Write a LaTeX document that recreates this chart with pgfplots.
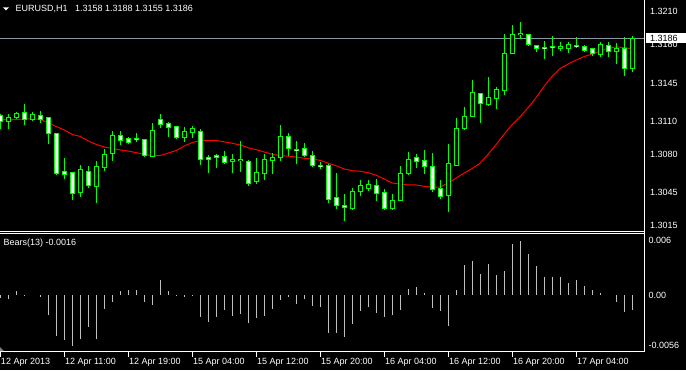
\documentclass[border=0pt]{standalone}
\usepackage{pgfplots}
\pgfplotsset{compat=1.18}
\usepackage{pgfplotstable}
\usepackage{fontspec}
\setmainfont{Liberation Sans}
\definecolor{cgreen}{RGB}{0,255,0}
\definecolor{cred}{RGB}{255,0,0}
\definecolor{bidgray}{RGB}{140,150,160}
\definecolor{silv}{RGB}{192,192,192}
\newcommand\lab{\fontsize{9bp}{10.8bp}\selectfont}

\pgfplotstableread{
k O H L C
0 1.3115 1.3117 1.3103 1.3110
1 1.3110 1.3117 1.3103 1.3113
2 1.3113 1.3118 1.3112 1.3117
3 1.3118 1.3126 1.3107 1.3112
4 1.3112 1.3118 1.3110 1.3116
5 1.3115 1.3119 1.3108 1.3112
6 1.3113 1.3114 1.3089 1.3099
7 1.3099 1.3099 1.3061 1.3062
8 1.3064 1.3076 1.3057 1.3061
9 1.3063 1.3063 1.3038 1.3044
10 1.3045 1.3070 1.3041 1.3066
11 1.3064 1.3069 1.3049 1.3051
12 1.3050 1.3074 1.3035 1.3069
13 1.3068 1.3085 1.3065 1.3080
14 1.3081 1.3101 1.3074 1.3097
15 1.3097 1.3101 1.3088 1.3092
16 1.3094 1.3096 1.3089 1.3091
17 1.3094 1.3099 1.3091 1.3093
18 1.3093 1.3093 1.3077 1.3079
19 1.3078 1.3108 1.3077 1.3102
20 1.3112 1.3117 1.3104 1.3107
21 1.3108 1.3109 1.3096 1.3104
22 1.3105 1.3106 1.3094 1.3095
23 1.3095 1.3105 1.3091 1.3101
24 1.3100 1.3106 1.3095 1.3103
25 1.3101 1.3103 1.3070 1.3075
26 1.3077 1.3079 1.3063 1.3075
27 1.3079 1.3080 1.3067 1.3077
28 1.3078 1.3083 1.3071 1.3072
29 1.3073 1.3080 1.3063 1.3075
30 1.3074 1.3092 1.3064 1.3075
31 1.3073 1.3075 1.3051 1.3053
32 1.3055 1.3076 1.3053 1.3063
33 1.3062 1.3080 1.3056 1.3075
34 1.3074 1.3081 1.3062 1.3077
35 1.3077 1.3107 1.3074 1.3096
36 1.3096 1.3099 1.3078 1.3085
37 1.3084 1.3092 1.3071 1.3083
38 1.3085 1.3090 1.3077 1.3079
39 1.3079 1.3083 1.3068 1.3070
40 1.3070 1.3073 1.3066 1.3069
41 1.3070 1.3071 1.3035 1.3039
42 1.3040 1.3063 1.3030 1.3033
43 1.3033 1.3044 1.3019 1.3031
44 1.3030 1.3049 1.3029 1.3046
45 1.3046 1.3056 1.3042 1.3051
46 1.3049 1.3056 1.3046 1.3052
47 1.3051 1.3057 1.3037 1.3044
48 1.3045 1.3048 1.3029 1.3030
49 1.3030 1.3044 1.3029 1.3038
50 1.3038 1.3069 1.3037 1.3062
51 1.3062 1.3082 1.3061 1.3075
52 1.3077 1.3080 1.3067 1.3073
53 1.3074 1.3084 1.3062 1.3069
54 1.3069 1.3081 1.3045 1.3048
55 1.3049 1.3056 1.3039 1.3041
56 1.3042 1.3089 1.3027 1.3071
57 1.3070 1.3113 1.3069 1.3103
58 1.3103 1.3123 1.3102 1.3114
59 1.3114 1.3148 1.3114 1.3136
60 1.3135 1.3136 1.3108 1.3126
61 1.3125 1.3150 1.3124 1.3132
62 1.3131 1.3141 1.3121 1.3139
63 1.3138 1.3190 1.3134 1.3172
64 1.3172 1.3198 1.3171 1.3189
65 1.3189 1.3201 1.3185 1.3190
66 1.3189 1.3190 1.3179 1.3180
67 1.3179 1.3180 1.3173 1.3176
68 1.3177 1.3183 1.3167 1.3176
69 1.3178 1.3188 1.3170 1.3177
70 1.3176 1.3182 1.3174 1.3178
71 1.3176 1.3182 1.3172 1.3180
72 1.3179 1.3187 1.3177 1.3178
73 1.3178 1.3180 1.3173 1.3175
74 1.3176 1.3177 1.3170 1.3172
75 1.3171 1.3182 1.3169 1.3180
76 1.3179 1.3182 1.3169 1.3174
77 1.3174 1.3181 1.3162 1.3176
78 1.3176 1.3187 1.3151 1.3158
79 1.3158 1.3188 1.3155 1.3186
}\candles

\pgfplotstableread{
k M
0 1.31121
1 1.31111
2 1.31116
3 1.31121
4 1.31121
5 1.31118
6 1.31084
7 1.31052
8 1.31020
9 1.30979
10 1.30961
11 1.30920
12 1.30888
13 1.30865
14 1.30851
15 1.30838
16 1.30828
17 1.30813
18 1.30798
19 1.30785
20 1.30787
21 1.30810
22 1.30833
23 1.30874
24 1.30906
25 1.30924
26 1.30926
27 1.30924
28 1.30912
29 1.30899
30 1.30883
31 1.30858
32 1.30840
33 1.30819
34 1.30798
35 1.30787
36 1.30781
37 1.30773
38 1.30762
39 1.30755
40 1.30743
41 1.30717
42 1.30693
43 1.30664
44 1.30648
45 1.30644
46 1.30630
47 1.30607
48 1.30573
49 1.30536
50 1.30527
51 1.30518
52 1.30518
53 1.30506
54 1.30498
55 1.30500
56 1.30536
57 1.30582
58 1.30628
59 1.30669
60 1.30719
61 1.30801
62 1.30888
63 1.30984
64 1.31070
65 1.31143
66 1.31226
67 1.31317
68 1.31422
69 1.31513
70 1.31582
71 1.31623
72 1.31659
73 1.31691
74 1.31714
75 1.31741
76 1.31769
77 1.31778
78 1.31773
79 1.31760
}\ma

\pgfplotstableread{
k B
0 -0.0003
1 -0.0004
2 0.0004
3 -0.0001
4 0.0000
5 -0.0002
6 -0.0022
7 -0.0045
8 -0.0050
9 -0.0056
10 -0.0049
11 -0.0035
12 -0.0049
13 -0.0015
14 -0.0008
15 0.0004
16 0.0005
17 0.0006
18 -0.0008
19 -0.0011
20 0.0017
21 0.0004
22 -0.0001
23 -0.0002
24 -0.0001
25 -0.0024
26 -0.0030
27 -0.0024
28 -0.0017
29 -0.0023
30 -0.0021
31 -0.0031
32 -0.0025
33 -0.0023
34 -0.0015
35 -0.0006
36 -0.0002
37 -0.0010
38 -0.0004
39 -0.0012
40 -0.0013
41 -0.0042
42 -0.0042
43 -0.0046
44 -0.0032
45 -0.0018
46 -0.0013
47 -0.0020
48 -0.0024
49 -0.0022
50 -0.0017
51 0.0007
52 0.0009
53 0.0002
54 -0.0014
55 -0.0018
56 -0.0034
57 0.0006
58 0.0033
59 0.0038
60 0.0023
61 0.0034
62 0.0022
63 0.0026
64 0.0056
65 0.0060
66 0.0045
67 0.0032
68 0.0020
69 0.0020
70 0.0020
71 0.0013
72 0.0017
73 0.0010
74 0.0005
75 0.0002
76 0.0000
77 -0.0008
78 -0.0019
79 -0.0017
}\bears

\begin{document}
\begin{tikzpicture}[x=1bp,y=1bp]
\fill[black] (0,0) rectangle (686,370);
\begin{axis}[at={(0bp,139bp)}, anchor=south west, scale only axis,
  width=645bp, height=231bp,
  xmin=-0.0375, xmax=80.5875, ymin=1.30098, ymax=1.32207,
  axis line style={draw=none}, major tick length=0pt, xtick=\empty,
  ytick={1.3015,1.3045,1.3080,1.3110,1.3145,1.3180,1.3210},
  yticklabels={1.3015,1.3045,1.3080,1.3110,1.3145,1.3180,1.3210},
  yticklabel pos=right, scaled y ticks=false,
  yticklabel style={anchor=west, inner sep=0pt, xshift=5bp, font=\lab, text=white}]
\addplot[bidgray, line width=1bp, forget plot] coordinates {(-1,1.3186) (82,1.3186)};
\addplot[cred, line width=1bp, mark=none] table[x=k,y=M] {\ma};
% wicks
\addplot[draw=none, mark=none, error bars/.cd, y dir=plus, y explicit, error mark=none,
   error bar style={draw=cgreen, line width=1bp}]
   table[x=k, y=L, y error plus expr={\thisrow{H}-\thisrow{L}}] {\candles};
% body outlines
\addplot[draw=none, mark=none, error bars/.cd, y dir=plus, y explicit, error mark=none,
   error bar style={draw=cgreen, line width=5bp}]
   table[x=k, y expr={min(\thisrow{O},\thisrow{C})-0.0000457},
         y error plus expr={abs(\thisrow{C}-\thisrow{O})+0.0000913}] {\candles};
% bear bodies (white)
\addplot[draw=none, mark=none, restrict expr to domain={\thisrow{O}-\thisrow{C}}{0.00005:1},
   error bars/.cd, y dir=plus, y explicit, error mark=none,
   error bar style={draw=white, line width=3bp}]
   table[x=k, y expr={\thisrow{C}+0.0000457},
         y error plus expr={max(\thisrow{O}-\thisrow{C}-0.0000913,0)}] {\candles};
% bull bodies (black)
\addplot[draw=none, mark=none, restrict expr to domain={\thisrow{C}-\thisrow{O}}{0.00005:1},
   error bars/.cd, y dir=plus, y explicit, error mark=none,
   error bar style={draw=black, line width=3bp}]
   table[x=k, y expr={\thisrow{O}+0.0000457},
         y error plus expr={max(\thisrow{C}-\thisrow{O}-0.0000913,0)}] {\candles};
\end{axis}

\begin{axis}[at={(0bp,18.3bp)}, anchor=south west, scale only axis,
  width=645bp, height=118.4bp,
  xmin=-0.0375, xmax=80.5875, ymin=-0.006265, ymax=0.006818,
  axis line style={draw=none}, major tick length=0pt,
  xtick={0,8,16,24,32,40,48,56,64,72},
  xticklabels={12 Apr 2013,12 Apr 11:00,12 Apr 19:00,15 Apr 04:00,15 Apr 12:00,15 Apr 20:00,16 Apr 04:00,16 Apr 12:00,16 Apr 20:00,17 Apr 04:00},
  xticklabel style={anchor=base west, inner sep=0pt, xshift=0.5bp, yshift=-12.3bp, font=\lab, text=white},
  ytick={-0.0056,0,0.006}, yticklabels={-0.0056,0.00,0.006},
  yticklabel pos=right, scaled y ticks=false,
  yticklabel style={anchor=west, inner sep=0pt, xshift=3.5bp, font=\lab, text=white}]
\addplot[ycomb, silv, line width=1bp, mark=none] table[x=k,y=B] {\bears};
\end{axis}

% frame lines
\draw[white, line width=1bp] (0,138.5) -- (644.5,138.5);
\draw[white, line width=1bp] (0,136.5) -- (644.5,136.5);
\draw[white, line width=1bp] (0,18.5) -- (645,18.5);
\draw[white, line width=1bp] (644.5,18.5) -- (644.5,370);
\foreach \i in {0,...,9} \draw[white, line width=1bp] (0.3+64*\i,18.5) -- (0.3+64*\i,13.5);
\fill[gray] (0,19) -- (4,19) -- (0,23) -- cycle;
% price box
\fill[white] (646,326.7) rectangle (686,336.7);
\node[anchor=west, inner sep=0pt, text=black, font=\lab] at (650,331.6) {1.3186};
% titles
\fill[white] (3,362.5) -- (9,362.5) -- (6,359.5) -- cycle;
\node[anchor=base west, inner sep=0pt, text=white, font=\lab] at (15.5,358.3) {EURUSD,H1};
\node[anchor=base west, inner sep=0pt, text=white, font=\lab] at (75,358.3) {1.3158 1.3188 1.3155 1.3186};
\node[anchor=base west, inner sep=0pt, text=white, font=\lab] at (3.5,124.5) {Bears(13) -0.0016};
\pgfresetboundingbox
\path[use as bounding box] (0,0) rectangle (686,370);
\end{tikzpicture}
\end{document}
